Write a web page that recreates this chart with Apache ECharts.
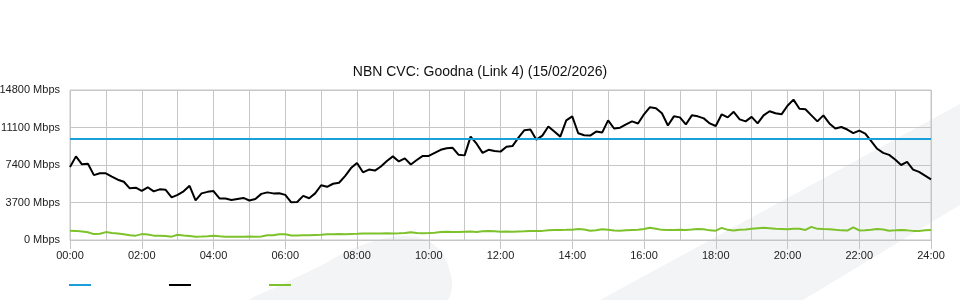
<!DOCTYPE html>
<html>
<head>
<meta charset="utf-8">
<script src="https://cdn.jsdelivr.net/npm/echarts@6/dist/echarts.min.js"></script>
<style>html,body{margin:0;padding:0;background:#fff;}#c{width:960px;height:300px;}</style>
</head>
<body>
<div id="c"></div>
<script>
const titleText = 'NBN CVC: Goodna (Link 4) (15/02/2026)';
const stepMinutes = 10;
const capacity = 9950;
const yTicks = [0, 3700, 7400, 11100, 14800];
const traffic = [7200,8250,7470,7520,6400,6580,6580,6250,5950,5750,
 5100,5160,4850,5200,4800,5000,4950,4200,4450,4800,
 5350,3900,4600,4750,4830,4100,4100,3950,4050,4150,
 3900,4050,4550,4700,4600,4620,4450,3720,3750,4350,
 4120,4600,5400,5250,5550,5650,6300,7100,7600,6680,
 6950,6850,7250,7800,8250,7750,8050,7450,7890,8300,
 8300,8600,8900,9050,9100,8400,8350,10200,9500,8600,
 8900,8780,8720,9200,9270,10100,10830,10900,9900,10300,
 11200,10700,10200,11800,12200,10530,10340,10300,10700,10600,
 11800,11000,11080,11400,11700,11500,12400,13100,13000,12500,
 11300,12200,12100,11400,12300,12200,12000,11500,11250,12400,
 12100,12650,11900,11700,12150,11500,12300,12700,12500,12400,
 13250,13850,12950,12900,12300,11700,12300,11500,11000,11150,
 10900,10550,10790,10500,9750,9000,8600,8400,7950,7400,
 7700,6950,6720,6360,5990];
const upload = [920,900,830,760,580,620,780,700,640,560,
 480,430,580,540,430,430,400,330,520,440,
 400,330,340,380,430,360,330,330,330,330,
 340,330,350,470,460,560,560,440,440,480,
 470,500,520,560,570,580,560,600,620,650,
 650,640,650,660,640,660,700,760,680,660,
 680,720,800,820,780,800,820,840,800,860,
 890,860,820,830,820,840,860,900,890,900,
 960,990,990,1000,1020,1080,1040,920,960,1060,
 1000,940,920,960,990,1000,1080,1200,1100,1000,
 990,990,1000,990,1030,1080,1060,950,920,1200,
 1000,940,1000,1040,1100,1150,1200,1150,1100,1080,
 1050,1120,1100,990,1300,1100,1080,1070,1000,950,
 930,1250,940,960,1000,1080,1030,920,950,990,
 950,900,890,960,990];
const seriesNames = ['Capacity', 'Download', 'Upload'];
const seriesColors = ['#1b9fdb', '#000000', '#7dc22b'];

const toPairs = arr => arr.map((v, i) => [i * stepMinutes, v]);
const pad = n => (n < 10 ? '0' : '') + n;
const FONT = '"Liberation Sans", Arial, sans-serif';
const gridColor = '#c6c6c6';

const chart = echarts.init(document.getElementById('c'), null, {renderer: 'canvas'});
chart.setOption({
  backgroundColor: '#ffffff',
  animation: false,
  textStyle: {fontFamily: FONT},
  title: {
    text: titleText, left: 'center', top: 60,
    textStyle: {fontFamily: FONT, fontSize: 14, fontWeight: 'normal', color: '#111'}
  },
  graphic: [
    {type: 'polygon', z: -10, silent: true,
     shape: {points: [[600,300],[960,104],[960,205],[803,300]]},
     style: {fill: '#f3f4f6'}},
    {type: 'polygon', z: -10, silent: true,
     shape: {smooth: 0.35, points: [[250,302],[285,283],[320,266],[352,249],[382,239],[408,236],[428,241],[442,253],[450,272],[452,288],[444,302]]},
     style: {fill: '#f3f4f6'}}
  ],
  legend: {
    left: 64, top: 279,
    icon: 'rect', itemWidth: 22, itemHeight: 2, itemGap: 78,
    data: seriesNames,
    formatter: () => '',
    textStyle: {fontSize: 11},
    selectedMode: false
  },
  grid: {left: 70, right: 29, top: 90, bottom: 60, show: true, borderColor: gridColor, borderWidth: 1,
    backgroundColor: 'transparent', containLabel: false, outerBoundsMode: 'none'},
  xAxis: {
    type: 'value', min: 0, max: 1440, interval: 120,
    axisLine: {show: true, lineStyle: {color: gridColor}},
    axisTick: {show: true, length: 9, lineStyle: {color: gridColor}},
    axisLabel: {color: '#222', fontSize: 11, fontFamily: FONT, margin: 10,
      formatter: v => pad(Math.round(v / 60)) + ':00'},
    splitLine: {show: true, lineStyle: {color: gridColor, width: 1}},
    minorTick: {show: false, splitNumber: 2},
    minorSplitLine: {show: true, lineStyle: {color: gridColor, width: 1}}
  },
  yAxis: {
    type: 'value', min: yTicks[0], max: yTicks[yTicks.length - 1], interval: yTicks[1] - yTicks[0],
    axisLine: {show: false}, axisTick: {show: false},
    axisLabel: {color: '#222', fontSize: 11, fontFamily: FONT, margin: 10,
      formatter: v => v + ' Mbps'},
    splitLine: {show: true, lineStyle: {color: gridColor, width: 1}}
  },
  series: [
    {name: seriesNames[0], type: 'line', data: [], color: seriesColors[0],
     lineStyle: {color: seriesColors[0], width: 2}, itemStyle: {color: seriesColors[0]},
     markLine: {silent: true, symbol: 'none', label: {show: false},
       lineStyle: {color: seriesColors[0], width: 2, type: 'solid'},
       data: [{yAxis: capacity}]}},
    {name: seriesNames[1], type: 'line', data: toPairs(traffic), color: seriesColors[1],
     showSymbol: false, lineStyle: {color: seriesColors[1], width: 2}, itemStyle: {color: seriesColors[1]}, z: 3},
    {name: seriesNames[2], type: 'line', data: toPairs(upload), color: seriesColors[2],
     showSymbol: false, lineStyle: {color: seriesColors[2], width: 2}, itemStyle: {color: seriesColors[2]}, z: 2}
  ]
});
</script>
</body>
</html>
